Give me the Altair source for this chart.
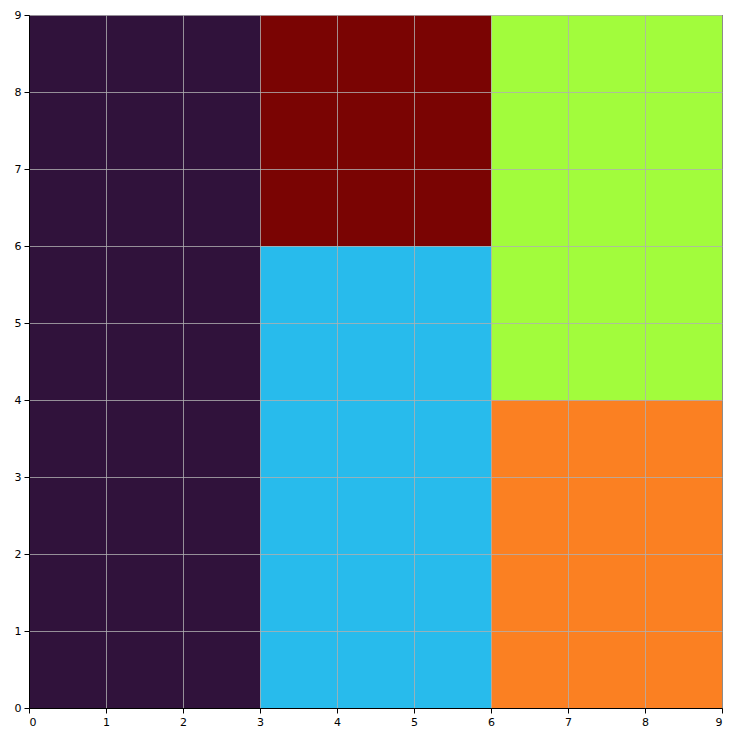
import pandas as pd
import altair as alt

x0 = [0, 3, 3, 6, 6]
x1 = [3, 6, 6, 9, 9]
y0 = [0, 6, 0, 4, 0]
y1 = [9, 9, 6, 9, 4]
colours = ["#30123b", "#7a0403", "#28bbec", "#a2fc3c", "#fb8022"]

df = pd.DataFrame({"x0": x0, "x1": x1, "y0": y0, "y1": y1, "c": colours})

axis = dict(
    values=list(range(10)), grid=True, gridColor="#b0b0b0", gridWidth=0.8,
    zindex=1, domainColor="black", tickColor="black", labelColor="black",
    labelFont="DejaVu Sans", labelFontSize=11, title=None, labelPadding=3,
)

chart = alt.Chart(df).mark_rect().encode(
    x=alt.X("x0:Q", scale=alt.Scale(domain=[0, 9], nice=False), axis=alt.Axis(**axis)),
    x2="x1",
    y=alt.Y("y0:Q", scale=alt.Scale(domain=[0, 9], nice=False), axis=alt.Axis(**axis)),
    y2="y1",
    color=alt.Color("c:N", scale=None),
).properties(
    width=693, height=693,
    autosize=alt.AutoSizeParams(type="none"),
    padding={"left": 21, "top": 7, "right": 6, "bottom": 26},
).configure_view(stroke="black", strokeWidth=1)

chart.save("out.html", embed_options={"renderer": "svg", "actions": False})
